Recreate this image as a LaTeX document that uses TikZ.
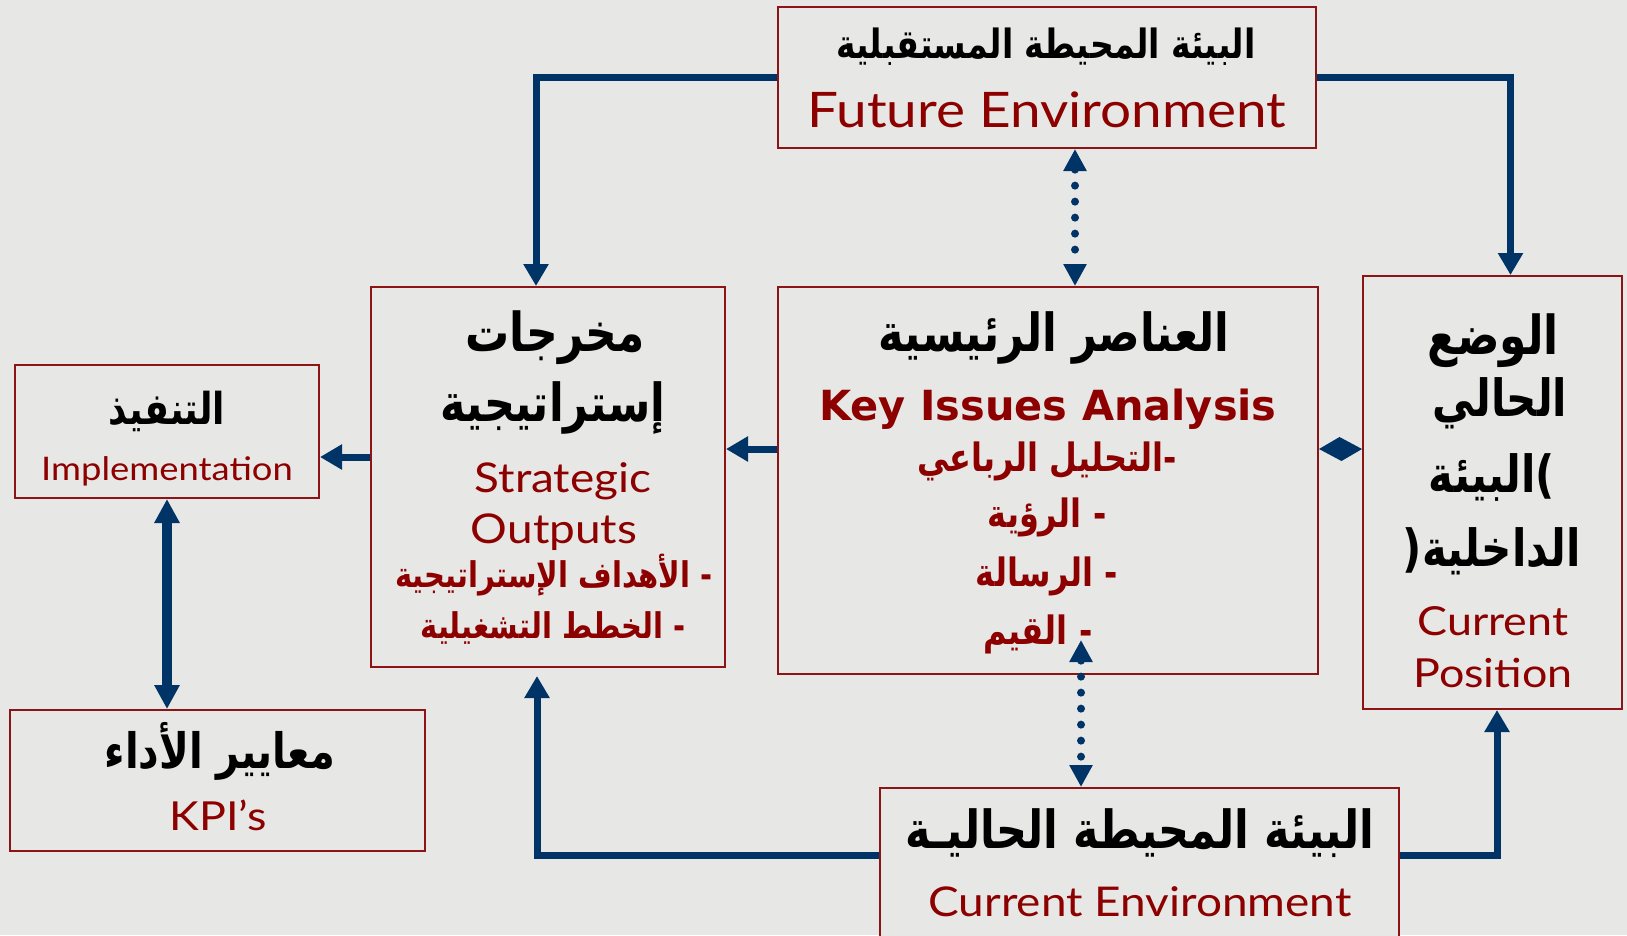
\documentclass[tikz,border=0pt]{standalone}
\usepackage{graphicx}
\usepackage{fontspec}
\setmainfont{Lato}[FakeStretch=1.12]
\newfontfamily\arab[Script=Arabic]{DejaVu Sans}
\newfontfamily\keyf{DejaVu Sans}
\TeXXeTstate=1
\usetikzlibrary{arrows.meta}
\newcommand{\ARt}[1]{\scalebox{1}[1.22]{\beginR #1\endR}}
\definecolor{bg}{RGB}{231,231,229}
\definecolor{boxred}{RGB}{140,20,20}
\definecolor{txtred}{RGB}{140,0,0}
\definecolor{navy}{RGB}{0,51,102}
\tikzset{
  box/.style={draw=boxred, line width=2pt, fill=bg, inner sep=0pt},
  ar/.style={font=\arab\bfseries\fontsize{#1}{#1}\selectfont, text=black, inner sep=0pt, anchor=base},
  arr/.style={font=\arab\bfseries\fontsize{#1}{#1}\selectfont, text=txtred, inner sep=0pt, anchor=base},
  en/.style={font=\fontsize{#1}{#1}\selectfont, text=txtred, inner sep=0pt, anchor=base},
  conn/.style={draw=navy, line width=7pt, -{Triangle[length=22pt,width=24pt]}},
  dbl/.style={draw=navy, line width=10pt, {Triangle[length=24pt,width=24pt]}-{Triangle[length=24pt,width=24pt]}},
  dotconn/.style={draw=navy, line width=8pt, line cap=round, dash pattern=on 0pt off 16pt,
    {Triangle[length=22pt,width=22pt]}-{Triangle[length=22pt,width=22pt]}}
}
\begin{document}
\begin{tikzpicture}[x=1pt,y=-1pt]
\useasboundingbox (0,0) rectangle (1627,935);
\fill[bg] (0,0) rectangle (1627,935);
\clip (0,0) rectangle (1627,935);

% boxes
\node[box, minimum width=538pt, minimum height=141pt] (fe) at (1047,77.5) {};
\node[box, minimum width=540pt, minimum height=387pt] (ki) at (1048,480.5) {};
\node[box, minimum width=354pt, minimum height=380pt] (so) at (548,477) {};
\node[box, minimum width=259pt, minimum height=433pt] (cp) at (1492.5,492.5) {};
\node[box, minimum width=304pt, minimum height=133pt] (im) at (167,431.5) {};
\node[box, minimum width=415pt, minimum height=141pt] (kpi) at (217.5,780.5) {};
\node[box, minimum width=519pt, minimum height=162pt] (ce) at (1139.5,869) {};

% helper coordinates
\coordinate (r5) at (0,449);
\coordinate (r6) at (0,457);
\coordinate (r8) at (0,855);
\coordinate (k4) at (1081,640);

% connectors
\draw[conn] (fe.west) -| ([xshift=-12pt]so.north);
\draw[conn] (fe.east) -| ([xshift=18pt]cp.north);
\draw[dotconn] ([xshift=28pt]fe.south) -- ([xshift=28pt]fe.south |- ki.north);
\draw[dotconn] (k4) -- (k4 |- ce.north);
\draw[conn] (ki.west |- r5) -- (so.east |- r5);
\draw[conn] (so.west |- r6) -- (im.east |- r6);
\draw[dbl] (im.south) -- (im.south |- kpi.north);
\draw[conn, shorten >=8pt] (ce.west |- r8) -| ([xshift=-11pt]so.south);
\draw[conn] (ce.east |- r8) -| ([xshift=4.5pt]cp.south);
\fill[navy] (ki.east |- r5) -- ++(22.5,12) -- (cp.west |- r5) -- ++(-22.5,-12) -- cycle;

% Future Environment
\node[ar=33] (feA) at (1046,58) {\ARt{البيئة المحيطة المستقبلية}};
\node[en=49] (feE) at (1047,127) {Future Environment};

% Key issues
\node[ar=43] (kiA) at (1054,351) {\ARt{العناصر الرئيسية}};
\node[font=\keyf\bfseries\fontsize{41.5}{41.5}\selectfont, text=txtred, inner sep=0pt, anchor=base] (kiE) at (1048,420) {Key Issues Analysis};
\node[arr=32] (ki1) at (1047,471) {\ARt{-التحليل الرباعي}};
\node[arr=32] (ki2) at (1047,527) {\ARt{- الرؤية}};
\node[arr=32] (ki3) at (1047,586) {\ARt{- الرسالة}};
\node[arr=32] (ki4) at (1038,644) {\ARt{- القيم}};

% Strategic outputs
\node[ar=44] (soA1) at (555,351) {\ARt{مخرجات}};
\node[ar=43] (soA2) at (553,421) {\ARt{إستراتيجية}};
\node[en=41] (soE1) at (563,492) {Strategic};
\node[en=41] (soE2) at (554,543) {Outputs};
\node[arr=29] (so1) at (554,587) {\ARt{- الأهداف الإستراتيجية}};
\node[arr=29] (so2) at (553,638) {\ARt{- الخطط التشغيلية}};

% Current position
\node[ar=44] (cp1) at (1493,354) {\ARt{الوضع}};
\node[ar=42] (cp2) at (1500,416) {\ARt{الحالي}};
\node[ar=42] (cp3) at (1492,492) {\ARt{)البيئة}};
\node[ar=42] (cp4) at (1492,566) {\ARt{الداخلية(}};
\node[en=40] (cpE1) at (1493,635) {Current};
\node[en=40] (cpE2) at (1493,687) {Position};

% Implementation
\node[ar=36] (imA) at (167,424) {\ARt{التنفيذ}};
\node[en=32.5] (imE) at (167,480) {Implementation};

% KPI
\node[ar=40] (kpiA) at (220,768) {\ARt{معايير الأداء}};
\node[en=40] (kpiE) at (218,830) {KPI’s};

% Current environment
\node[ar=43] (ceA) at (1140,848) {\ARt{البيئة المحيطة الحاليـة}};
\node[en=41] (ceE) at (1140,916) {Current Environment};
\end{tikzpicture}
\end{document}
